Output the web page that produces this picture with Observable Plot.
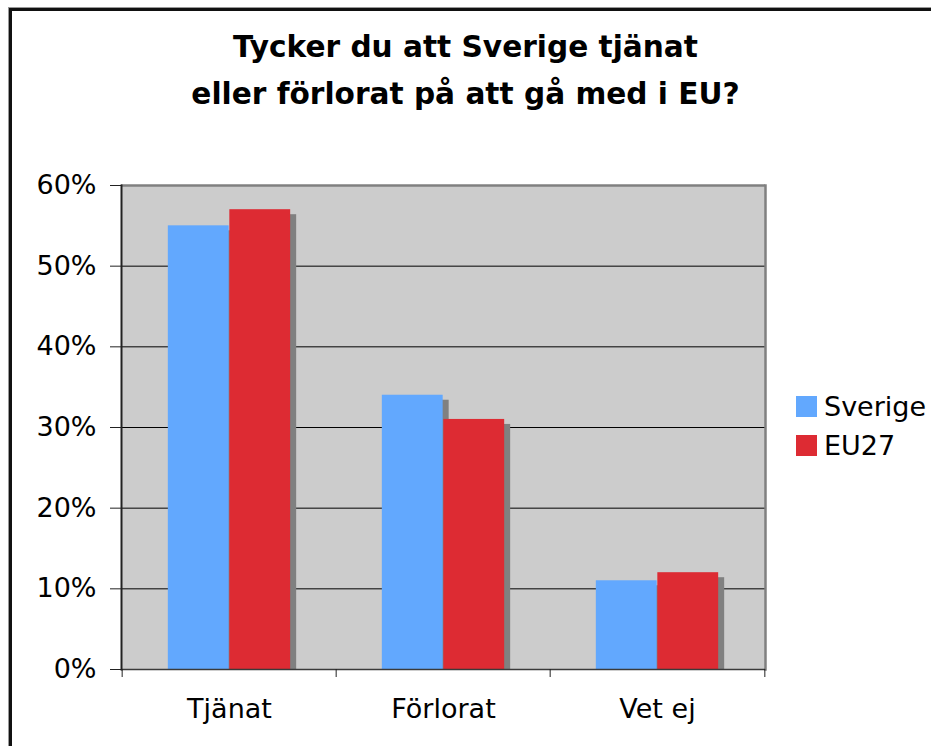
<!DOCTYPE html>
<html>
<head>
<meta charset="utf-8">
<script src="https://cdn.jsdelivr.net/npm/d3@7"></script>
<script src="https://cdn.jsdelivr.net/npm/@observablehq/plot@0.6"></script>
<style>
  html, body { margin: 0; padding: 0; background: #fff; }
  #wrap { position: relative; width: 931px; height: 746px; overflow: hidden; font-family: "DejaVu Sans", Verdana, sans-serif; }
  #chart { position: absolute; left: 0; top: 0; }
  #border { position: absolute; left: 9px; top: 8px; width: 960px; height: 780px; border-left: 3px solid #111; border-top: 3px solid #111; box-shadow: -1px -1px 0 #999; }
  #title { position: absolute; left: 0; top: 24px; width: 931px; text-align: center; font-weight: bold; font-size: 29.6px; line-height: 47px; color: #000; }
  #legend { position: absolute; left: 796px; top: 387px; font-size: 27px; color: #000; }
  .row { display: flex; align-items: center; height: 39px; }
  .sw { width: 21px; height: 21px; margin-right: 7px; }
</style>
</head>
<body>
<div id="wrap">
  <div id="chart"></div>
  <div id="border"></div>
  <div id="title">Tycker du att Sverige tjänat<br>eller förlorat på att gå med i EU?</div>
  <div id="legend"></div>
</div>
<script>
const categories = ["Tjänat", "Förlorat", "Vet ej"];
const series = ["Sverige", "EU27"];
const sverige = [55, 34, 11];
const eu27 = [57, 31, 12];
const yTicks = [0, 10, 20, 30, 40, 50, 60];
const colors = ["#62a8fe", "#dd2b33"];

const rows = [];
categories.forEach((c, i) => {
  rows.push({cat: c, series: "Sverige", value: sverige[i]});
  rows.push({cat: c, series: "EU27", value: eu27[i]});
});

const W = 931, H = 746, mL = 121, mR = 166, mT = 185, mB = 77;
const band = (W - mL - mR) / categories.length;
const barW = 61.5;
const outer = (band - 2 * barW) / 2;
const half = band / 2;
const insets = {
  Sverige: {insetLeft: outer, insetRight: half},
  EU27: {insetLeft: half, insetRight: outer}
};

const barMarks = [];
// shadows first
series.forEach((s) => {
  barMarks.push(Plot.barY(rows.filter(d => d.series === s), {
    x: "cat", y: "value", fill: "#808080", dx: 6, insetTop: 5, ...insets[s]
  }));
});
series.forEach((s, k) => {
  barMarks.push(Plot.barY(rows.filter(d => d.series === s), {
    x: "cat", y: "value", fill: colors[k], ...insets[s]
  }));
});

const chart = Plot.plot({
  width: W, height: H,
  marginLeft: mL, marginRight: mR, marginTop: mT, marginBottom: mB,
  style: {fontFamily: "DejaVu Sans, Verdana, sans-serif", fontSize: "27px", color: "#000", background: "transparent"},
  x: {domain: categories, padding: 0},
  y: {domain: [0, 60]},
  marks: [
    Plot.frame({fill: "#cccccc", stroke: null}),
    Plot.ruleY(yTicks.filter(t => t > 0 && t < 60), {stroke: "#000", strokeWidth: 1}),
    ...barMarks,
    Plot.ruleY([60], {stroke: "#808080", strokeWidth: 2.5}),
    Plot.frame({anchor: "right", stroke: "#808080", strokeWidth: 2.5}),
    Plot.ruleY([0], {stroke: "#3a3a3a", strokeWidth: 1.5}),
    Plot.frame({anchor: "left", stroke: "#222", strokeWidth: 2}),
    Plot.axisY({ticks: yTicks, tickFormat: d => d + "%", tickSize: 11, tickPadding: 14, fontSize: 27, stroke: "#222", label: null}),
    Plot.axisX({tickSize: 0, tickPadding: 29, fontSize: 27, label: null}),
    Plot.axisX({tickSize: 8, tickFormat: () => "", dx: -half, stroke: "#222", label: null}),
    Plot.axisX({ticks: [categories[categories.length - 1]], tickSize: 8, tickFormat: () => "", dx: half, stroke: "#222", label: null})
  ]
});
document.getElementById("chart").appendChild(chart);

const legend = document.getElementById("legend");
series.forEach((s, k) => {
  const row = document.createElement("div");
  row.className = "row";
  const sw = document.createElement("div");
  sw.className = "sw";
  sw.style.background = colors[k];
  const tx = document.createElement("span");
  tx.textContent = s;
  row.appendChild(sw);
  row.appendChild(tx);
  legend.appendChild(row);
});
</script>
</body>
</html>
